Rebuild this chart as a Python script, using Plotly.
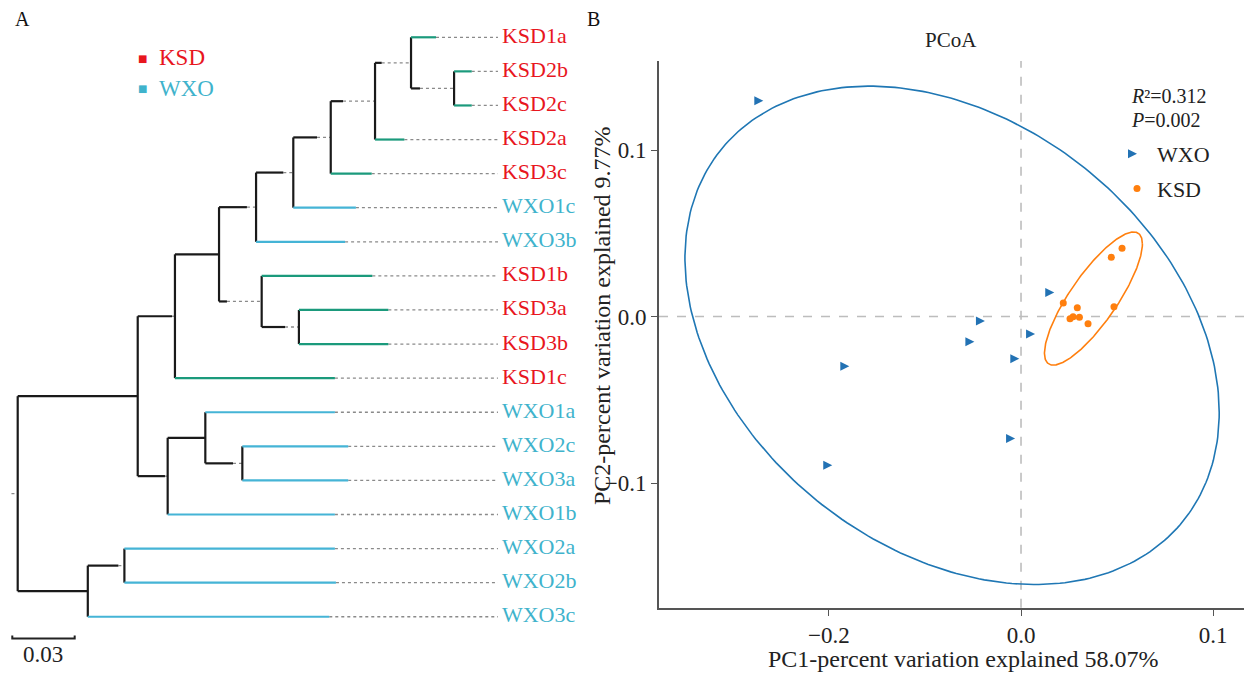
import numpy as np
import plotly.graph_objects as go

# ================= DATA =================
# ---- Panel A: clustering tree (branch-length units, root = 0) ----
leaf_names = ["KSD1a", "KSD2b", "KSD2c", "KSD2a", "KSD3c", "WXO1c", "WXO3b", "KSD1b", "KSD3a",
              "KSD3b", "KSD1c", "WXO1a", "WXO2c", "WXO3a", "WXO1b", "WXO2a", "WXO2b", "WXO3c"]
leaf_parent = ["N8", "N9", "N9", "N7", "N6", "N5", "N4", "N10", "N11",
               "N11", "N2", "N13", "N14", "N14", "N12", "N16", "N16", "N15"]
leaf_tip_x = [0.2011, 0.2183, 0.2183, 0.1859, 0.1702, 0.1626, 0.1574, 0.1705, 0.1782,
              0.1782, 0.1525, 0.1525, 0.1589, 0.1589, 0.1525, 0.1525, 0.1530, 0.1498]

node_names = ["root", "N1", "N2", "N3", "N4", "N5", "N6", "N7", "N8", "N9",
              "N10", "N11", "N12", "N13", "N14", "N15", "N16"]
node_parent = [None, "root", "N1", "N2", "N3", "N4", "N5", "N6", "N7", "N8",
               "N3", "N10", "N1", "N12", "N13", "root", "N15"]
node_x = [0.0, 0.0577, 0.0756, 0.0968, 0.1146, 0.1325, 0.1505, 0.1718, 0.1891, 0.2098,
          0.1173, 0.1352, 0.0721, 0.0902, 0.1080, 0.0337, 0.0513]
# where the solid part of the branch leading to each node ends (rest is dotted)
node_solid_end = [None, 0.0577, 0.0742, 0.0968, 0.1102, 0.1277, 0.1439, 0.1564, 0.1750, 0.1934,
                  0.1006, 0.1285, 0.0708, 0.0902, 0.1035, 0.0337, 0.0484]
label_align_x = 0.2309
scale_bar_value = 0.03
scale_bar_text = "0.03"

group_names = ["KSD", "WXO"]
group_label_colors = ["#e8161e", "#3fb3cc"]
group_branch_colors = ["#1b9a7c", "#45b4d6"]

# ---- Panel B: PCoA ----
wxo_pc1 = [-0.1342, 0.0173, -0.0188, 0.0073, -0.0243, -0.0009, -0.0894, -0.0031, -0.0983]
wxo_pc2 = [0.1296, 0.0145, -0.0027, -0.0105, -0.0151, -0.0253, -0.0299, -0.0732, -0.0894]
ksd_pc1 = [0.0220, 0.0293, 0.0271, 0.0255, 0.0304, 0.0349, 0.0470, 0.0526, 0.0484]
ksd_pc2 = [0.0081, 0.0053, -0.0001, -0.0013, -0.0005, -0.0043, 0.0356, 0.0410, 0.0059]

# confidence ellipses: centre, half-ranges, correlation
ell_groups = ["WXO", "KSD"]
ell_cx = [-0.0359, 0.0377]
ell_cy = [-0.0113, 0.0108]
ell_hx = [0.1391, 0.0255]
ell_hy = [0.1497, 0.0400]
ell_r = [-0.31, 0.82]

x_tickvals = [-0.1, 0.0, 0.1]
x_ticktext = ["\u22120.2", "0.0", "0.1"]
y_tickvals = [-0.1, 0.0, 0.1]
y_ticktext = ["\u22120.1", "0.0", "0.1"]

stats_r2 = "0.312"
stats_p = "0.002"
pc1_title = "PC1-percent variation explained 58.07%"
pc2_title = "PC2-percent variation explained 9.77%"

# ================= LAYOUT CONSTANTS =================
W, H = 1244, 674
SERIF = "Liberation Serif"
BLUE = "#1f77b4"
ORANGE = "#ff7f0e"
UNIT_PX = 2080.0  # tree: pixels per branch-length unit


def px(xp):
    return xp / W


def py(yp):
    return 1 - yp / H


# ================= BUILD TREE =================
def group_of(name):
    return 0 if name.startswith("KSD") else 1


children = {n: [] for n in node_names}
for i, p in enumerate(leaf_parent):
    children[p].append(("leaf", i))
for n, p in zip(node_names, node_parent):
    if p is not None:
        children[p].append(("node", n))

nidx = {n: i for i, n in enumerate(node_names)}
ycache = {}


def node_y(n):
    if n in ycache:
        return ycache[n]
    ys = [c[1] if c[0] == "leaf" else node_y(c[1]) for c in children[n]]
    ycache[n] = (min(ys) + max(ys)) / 2
    return ycache[n]


for n in node_names:
    node_y(n)

bx, by = [], []  # black solid
dx, dy = [], []  # grey dotted
cx = {0: [], 1: []}
cy = {0: [], 1: []}

for n in node_names:
    ys = [c[1] if c[0] == "leaf" else ycache[c[1]] for c in children[n]]
    x0 = node_x[nidx[n]]
    bx += [x0, x0, None]
    by += [min(ys), max(ys), None]
    p = node_parent[nidx[n]]
    if p is not None:
        px0 = node_x[nidx[p]]
        se = node_solid_end[nidx[n]]
        yy = ycache[n]
        bx += [px0, se, None]
        by += [yy, yy, None]
        if x0 - se > 1e-6:
            dx += [se, x0, None]
            dy += [yy, yy, None]

for i, (name, p) in enumerate(zip(leaf_names, leaf_parent)):
    g = group_of(name)
    cx[g] += [node_x[nidx[p]], leaf_tip_x[i], None]
    cy[g] += [i, i, None]
    dx += [leaf_tip_x[i], label_align_x, None]
    dy += [i, i, None]

root_y = ycache["root"]
dx += [-0.003, 0.0, None]
dy += [root_y, root_y, None]

fig = go.Figure()

fig.add_trace(go.Scatter(x=dx, y=dy, mode="lines", xaxis="x2", yaxis="y2",
                         line=dict(color="#8a8a8a", width=1.3, dash="dot"),
                         showlegend=False, hoverinfo="skip"))
fig.add_trace(go.Scatter(x=bx, y=by, mode="lines", xaxis="x2", yaxis="y2",
                         line=dict(color="#1a1a1a", width=2.2),
                         showlegend=False, hoverinfo="skip"))
for g in (0, 1):
    fig.add_trace(go.Scatter(x=cx[g], y=cy[g], mode="lines", xaxis="x2", yaxis="y2",
                             line=dict(color=group_branch_colors[g], width=2.2),
                             showlegend=False, hoverinfo="skip"))

label_x = label_align_x + 4 / UNIT_PX
fig.add_trace(go.Scatter(
    x=[label_x] * len(leaf_names), y=list(range(len(leaf_names))),
    mode="text", text=leaf_names, textposition="middle right",
    textfont=dict(family=SERIF, size=22,
                  color=[group_label_colors[group_of(n)] for n in leaf_names]),
    xaxis="x2", yaxis="y2", showlegend=False, hoverinfo="skip"))

# scale bar
sb_x0 = -0.0026
sb_y = 17.64
fig.add_trace(go.Scatter(x=[sb_x0, sb_x0, sb_x0 + scale_bar_value, sb_x0 + scale_bar_value],
                         y=[sb_y - 0.09, sb_y, sb_y, sb_y - 0.09], mode="lines",
                         line=dict(color="#222", width=2), xaxis="x2", yaxis="y2",
                         showlegend=False, hoverinfo="skip"))

# ================= PCoA =================
t = np.linspace(0, 2 * np.pi, 300)
ell_colors = {"WXO": BLUE, "KSD": ORANGE}
for i, g in enumerate(ell_groups):
    ex = ell_cx[i] + ell_hx[i] * np.cos(t)
    ey = ell_cy[i] + ell_hy[i] * (ell_r[i] * np.cos(t) + np.sqrt(1 - ell_r[i] ** 2) * np.sin(t))
    fig.add_trace(go.Scatter(x=ex, y=ey, mode="lines", line=dict(color=ell_colors[g], width=1.6),
                             showlegend=False, hoverinfo="skip"))

fig.add_trace(go.Scatter(x=wxo_pc1, y=wxo_pc2, mode="markers", name="WXO", legendgroup="w",
                         marker=dict(symbol="arrow-right", size=9, color="#2272b4")))
fig.add_trace(go.Scatter(x=ksd_pc1, y=ksd_pc2, mode="markers", name="KSD", legendgroup="k",
                         marker=dict(symbol="circle", size=7, color=ORANGE)))

fig.add_shape(type="line", xref="x", yref="y domain", x0=0, x1=0, y0=0, y1=1,
              line=dict(color="#bdbdbd", width=1.6, dash="dash"), layer="below")
fig.add_shape(type="line", xref="x domain", yref="y", x0=0, x1=1, y0=0, y1=0,
              line=dict(color="#bdbdbd", width=1.6, dash="dash"), layer="below")

axis_common = dict(showline=True, linecolor="#555", linewidth=1.6, ticks="outside", ticklen=6,
                   tickwidth=1.4, tickcolor="#555", showgrid=False, zeroline=False,
                   tickfont=dict(family=SERIF, size=23, color="#222"), automargin=False)

fig.update_layout(
    width=W, height=H, margin=dict(l=0, r=0, t=0, b=0),
    paper_bgcolor="white", plot_bgcolor="white",
    xaxis=dict(domain=[px(659), 1.0], range=[-0.1885, 0.1161], tickmode="array",
               tickvals=x_tickvals, ticktext=x_ticktext, anchor="y", **axis_common),
    yaxis=dict(domain=[py(607.7), py(61)], range=[-0.1749, 0.1535], tickmode="array",
               tickvals=y_tickvals, ticktext=y_ticktext, anchor="x", **axis_common),
    xaxis2=dict(domain=[0, px(600)], range=[(0 - 17.7) / UNIT_PX, (600 - 17.7) / UNIT_PX],
                visible=False, anchor="y2"),
    yaxis2=dict(domain=[0, 1], range=[18.68, -1.094], visible=False, anchor="x2"),
    legend=dict(x=px(1117), y=py(133), xanchor="left", yanchor="top",
                font=dict(family=SERIF, size=22, color="#222"), tracegroupgap=3,
                bgcolor="rgba(0,0,0,0)", itemwidth=30),
    showlegend=True,
)

annotations = [
    dict(text="A", x=px(13), y=py(19), xanchor="left", yanchor="middle",
         font=dict(family=SERIF, size=20, color="#111")),
    dict(text="B", x=px(585), y=py(19), xanchor="left", yanchor="middle",
         font=dict(family=SERIF, size=20, color="#111")),
    dict(text="PCoA", x=px(951), y=py(40), xanchor="center", yanchor="middle",
         font=dict(family=SERIF, size=21, color="#222")),
    dict(text="<i>R</i>\u00b2=" + stats_r2, x=px(1129), y=py(96.5), xanchor="left",
         yanchor="middle", font=dict(family=SERIF, size=20, color="#222")),
    dict(text="<i>P</i>=" + stats_p, x=px(1129), y=py(120.5), xanchor="left",
         yanchor="middle", font=dict(family=SERIF, size=20, color="#222")),
    dict(text=pc1_title, x=px(963), y=py(659), xanchor="center", yanchor="middle",
         font=dict(family=SERIF, size=24, color="#222")),
    dict(text=pc2_title, x=px(602), y=py(316), xanchor="center", yanchor="middle", textangle=-90,
         font=dict(family=SERIF, size=24, color="#222")),
    dict(text=scale_bar_text, x=sb_x0 + scale_bar_value / 2, y=18.12, xref="x2", yref="y2",
         xanchor="center", yanchor="middle", font=dict(family=SERIF, size=23, color="#222")),
]
# legend of panel A
for gi, (gname, ycen) in enumerate(zip(group_names, [58, 88])):
    annotations.append(dict(text="\u25A0", x=px(142.5), y=py(ycen + 1), xanchor="center",
                            yanchor="middle", font=dict(family="DejaVu Sans", size=10,
                                                         color=group_label_colors[gi])))
    annotations.append(dict(text=gname, x=px(157), y=py(ycen), xanchor="left", yanchor="middle",
                            font=dict(family=SERIF, size=23, color=group_label_colors[gi])))
for a in annotations:
    a.setdefault("xref", "paper")
    a.setdefault("yref", "paper")
    a["showarrow"] = False
fig.update_layout(annotations=annotations)

fig.write_html("out.html", config={"displayModeBar": False},
               post_script="document.body.style.margin='0';document.body.style.overflow='hidden';")
